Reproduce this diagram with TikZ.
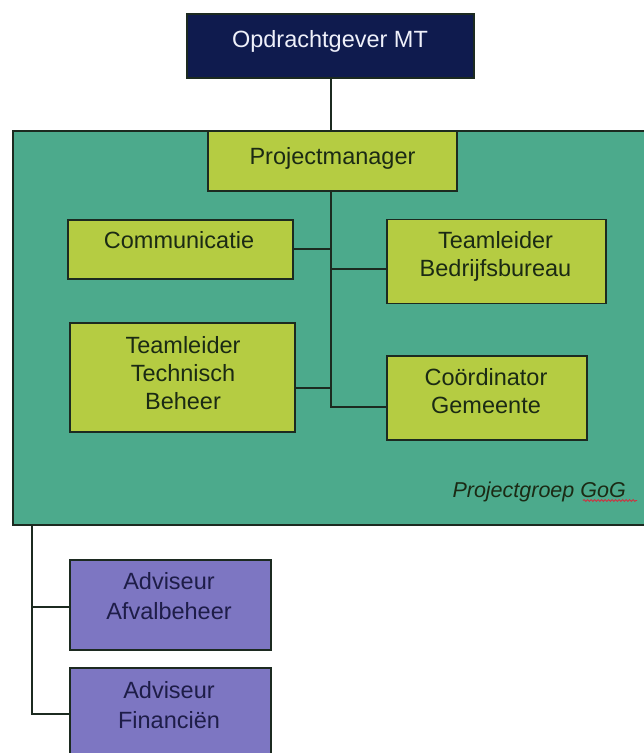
\documentclass[tikz,border=0pt]{standalone}
\usepackage{fontspec}
\setmainfont{Liberation Sans}
\usetikzlibrary{decorations.pathmorphing}
\definecolor{navy}{HTML}{0F1B4E}
\definecolor{panelgreen}{HTML}{4CAA8C}
\definecolor{lime}{HTML}{B5CC42}
\definecolor{violet}{HTML}{7D76C2}
\definecolor{edge}{HTML}{1C2A20}
\definecolor{limetext}{HTML}{1B2A14}
\definecolor{violettext}{HTML}{1E1D48}
\definecolor{navytext}{HTML}{EEF0FA}
\definecolor{squiggle}{HTML}{D0303F}
\tikzset{
  boxbase/.style={draw=edge, line width=1.5pt, inner sep=0pt, rectangle},
  navybox/.style={boxbase, fill=navy},
  limebox/.style={boxbase, fill=lime},
  violetbox/.style={boxbase, fill=violet},
  panelbox/.style={boxbase, fill=panelgreen},
  conn/.style={draw=edge, line width=1.5pt},
  txt/.style={inner sep=0pt, anchor=base, font=\fontsize{23.5}{27.5}\selectfont},
  limetxt/.style={txt, text=limetext},
  violettxt/.style={txt, text=violettext},
  navytxt/.style={txt, text=navytext},
}
\begin{document}
\begin{tikzpicture}[x=1pt, y=-1pt]
\useasboundingbox (0,0) rectangle (644,753);
\clip (0,0) rectangle (644,753);
\fill[white] (0,0) rectangle (644,753);

% panel
\node[panelbox, minimum width=637pt, minimum height=394pt] (panel) at (331.5,328) {};

% connector coordinates
\coordinate (spine) at (331,0);
\coordinate (comy) at (0,249);
\coordinate (bedy) at (0,269);
\coordinate (techy) at (0,388);
\coordinate (cooy) at (0,407);
\coordinate (left) at (32,0);
\coordinate (afvy) at (0,607);
\coordinate (finy) at (0,714);

% boxes
\node[navybox, minimum width=287pt, minimum height=64pt] (opd) at (330.5,46) {};
\node[limebox, minimum width=249pt, minimum height=60pt] (pm) at (332.5,161) {};
\node[limebox, minimum width=225pt, minimum height=59pt] (com) at (180.5,249.5) {};
\node[limebox, minimum width=219pt, minimum height=84pt] (bed) at (496.5,261.5) {};
\node[limebox, minimum width=225pt, minimum height=109pt] (tech) at (182.5,377.5) {};
\node[limebox, minimum width=200pt, minimum height=84pt] (coo) at (487,398) {};
\node[violetbox, minimum width=201pt, minimum height=90pt] (afv) at (170.5,605) {};
\node[violetbox, minimum width=201pt, minimum height=102pt] (fin) at (170.5,719) {};

% connectors
\draw[conn] (opd.south -| spine) -- (pm.north -| spine);
\draw[conn] (pm.south -| spine) -- (spine |- cooy) -- (coo.west |- cooy);
\draw[conn] (com.east |- comy) -- (spine |- comy);
\draw[conn] (spine |- bedy) -- (bed.west |- bedy);
\draw[conn] (tech.east |- techy) -- (spine |- techy);
\draw[conn] (left |- panel.south) -- (left |- finy) -- (fin.west |- finy);
\draw[conn] (left |- afvy) -- (afv.west |- afvy);

% texts
\node[navytxt] (topt) at (330,47.5) {Opdrachtgever MT};
\node[limetxt] (pmt) at (332.5,164) {Projectmanager};
\node[limetxt] (comt) at (179,248) {Communicatie};
\node[limetxt] (bedt1) at (495.5,248) {Teamleider};
\node[limetxt] (bedt2) at (495.5,276) {Bedrijfsbureau};
\node[limetxt] (techt1) at (183,353) {Teamleider};
\node[limetxt] (techt2) at (183,381) {Technisch};
\node[limetxt] (techt3) at (183,409) {Beheer};
\node[limetxt] (coot1) at (486,385) {Coördinator};
\node[limetxt] (coot2) at (486,413) {Gemeente};
\node[violettxt] (afvt1) at (169,589) {Adviseur};
\node[violettxt] (afvt2) at (169,619) {Afvalbeheer};
\node[violettxt] (fint1) at (169,698) {Adviseur};
\node[violettxt] (fint2) at (169,728) {Financiën};
\node[txt, anchor=base east, text=limetext, font=\fontsize{21.5}{25}\selectfont\itshape] (pgt) at (626,497) {Projectgroep GoG};
\draw[squiggle, line width=0.9pt, decorate, decoration={snake, amplitude=0.9pt, segment length=3.5pt}] (583,500.5) -- (637,500.5);
\end{tikzpicture}
\end{document}
